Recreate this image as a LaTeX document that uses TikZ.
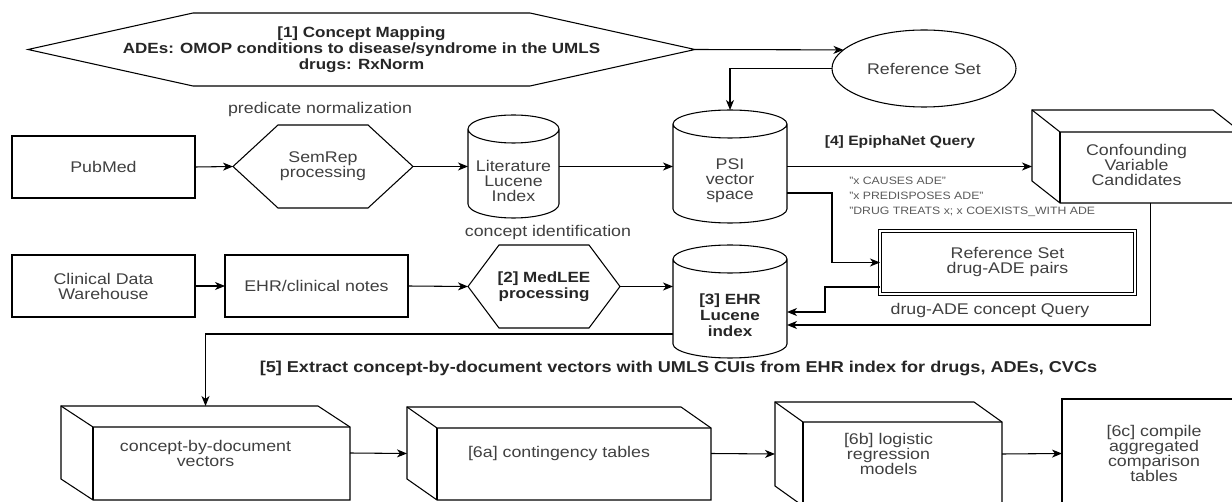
\documentclass[tikz,border=0pt]{standalone}
\usepackage{fontspec}
\setmainfont[FakeStretch=1.15]{Liberation Sans}
\usetikzlibrary{arrows.meta}
\usetikzlibrary{calc}
\usetikzlibrary{shapes.geometric}
\newcommand{\pxl}{0.75pt}
\newcommand{\rfont}{\fontsize{11.6pt}{11.25pt}\selectfont}
\newcommand{\bfont}{\fontsize{11.1pt}{12pt}\selectfont\bfseries}
\newcommand{\qfont}{\fontsize{8pt}{11.25pt}\selectfont}
\tikzset{
	outline/.style={
		draw=black,
		line width=0.8pt,
	},
	shapebox/.style={
		rectangle,
		text=black!75,
		font=\rfont,
		align=center,
		inner sep=0pt,
		outer sep=0pt,
	},
	manifest/.style={
		shapebox,
		outline,
	},
	hexa/.style={
		shapebox,
	},
	db/.style={
		shapebox,
	},
	cubebox/.style={
		shapebox,
	},
	note/.style={
		text=black!75,
		font=\rfont,
		align=center,
		inner sep=0pt,
	},
	bnote/.style={
		text=black!85,
		font=\bfont,
		align=center,
		inner sep=0pt,
	},
	qnote/.style={
		text=black!65,
		font=\qfont,
		align=left,
		inner sep=0pt,
	},
	arrow/.style={
		-{Stealth[length=7.5pt,width=6pt,inset=2.2pt]},
		outline,
	},
}
\begin{document}
\begin{tikzpicture}[x=0.75pt, y=0.75pt]
	\newcommand{\hexdraw}[2]{%
		\draw[outline] (#1.west) -- ($(#1.north west)+(#2,0)$) -- ($(#1.north east)+(-#2,0)$) -- (#1.east)
			-- ($(#1.south east)+(-#2,0)$) -- ($(#1.south west)+(#2,0)$) -- cycle;}
	\newcommand{\dbdraw}[2]{%
		\draw[outline] ($(#1.north west)+(0,-14)$) -- ($(#1.south west)+(0,14)$)
			arc[start angle=180, end angle=360, x radius=#2*\pxl, y radius=14*\pxl]
			-- ($(#1.north east)+(0,-14)$)
			arc[start angle=0, end angle=180, x radius=#2*\pxl, y radius=14*\pxl]
			arc[start angle=180, end angle=360, x radius=#2*\pxl, y radius=14*\pxl];}
	\newcommand{\cubedraw}[3]{%
		\draw[outline] (#1.north west) -- ($(#1.north east)+(-#2,0)$) -- ($(#1.north east)+(0,-#3)$)
			-- (#1.south east) -- ($(#1.south west)+(#2,0)$) -- ($(#1.south west)+(0,#3)$) -- cycle;
		\draw[outline] (#1.north west) -- ($(#1.north west)+(#2,-#3)$) -- ($(#1.north east)+(0,-#3)$);
		\draw[outline] ($(#1.north west)+(#2,-#3)$) -- ($(#1.south west)+(#2,0)$);}

	\useasboundingbox (0,0) rectangle (1232,-502);
	\clip (0,0) rectangle (1232,-502);

	% concept mapping
	\node[hexa, bnote, minimum width=667*\pxl, minimum height=73*\pxl] (mapping) at (361.5,-49.5) {[1] Concept Mapping\\ADEs: OMOP conditions to disease/syndrome in the UMLS\\drugs: RxNorm};
	\node[manifest, ellipse, minimum width=184*\pxl, minimum height=77*\pxl] (refset) at (924,-68.5) {Reference Set};

	% literature side
	\node[note] (prednorm) at (320,-110) {predicate normalization};
	\node[manifest, minimum width=183*\pxl, minimum height=62*\pxl] (pubmed) at (103.5,-167) {PubMed};
	\node[hexa, minimum width=180*\pxl, minimum height=83*\pxl] (semrep) at (323,-166.5) {SemRep\\processing};
	\node[db, minimum width=91*\pxl, minimum height=103*\pxl,
		label={[note, name=litlabel, yshift=-14*\pxl]center:{Literature\\Lucene\\Index}}] (lit) at (513.5,-166.5) {};
	\node[db, minimum width=114*\pxl, minimum height=113*\pxl,
		label={[note, name=psilabel, yshift=-14*\pxl]center:{PSI\\vector\\space}}] (psi) at (730,-166.5) {};
	\node[bnote, font=\fontsize{10.2pt}{12pt}\selectfont\bfseries] (epiq) at (900,-142) {[4] EpiphaNet Query};
	\node[cubebox, minimum width=209*\pxl, minimum height=93*\pxl,
		label={[note, name=cvclabel, yshift=-8.5*\pxl]center:{Confounding\\Variable\\Candidates}}] (cvc) at (1136.5,-156.5) {};
	\node[qnote, anchor=west] (preds) at (849,-197) {"x CAUSES ADE"\\"x PREDISPOSES ADE"\\"DRUG TREATS x; x COEXISTS\_WITH ADE};
	\node[manifest, double, double distance=1.5pt, line width=0.6pt, minimum width=255*\pxl, minimum height=63*\pxl] (refpairs) at (1007.5,-262.5) {Reference Set\\drug-ADE pairs};

	% clinical side
	\node[note] (conceptid) at (548,-233) {concept identification};
	\node[manifest, minimum width=183*\pxl, minimum height=62*\pxl] (cdw) at (103.5,-286) {Clinical Data\\Warehouse};
	\node[manifest, minimum width=183*\pxl, minimum height=62*\pxl] (notes) at (316.5,-286) {EHR/clinical notes};
	\node[hexa, bnote, minimum width=152*\pxl, minimum height=83*\pxl] (medlee) at (544,-286.5) {[2] MedLEE\\processing};
	\node[db, minimum width=114*\pxl, minimum height=113*\pxl,
		label={[bnote, name=ehrlabel, yshift=-14*\pxl]center:{[3] EHR\\Lucene\\index}}] (ehr) at (730,-301.5) {};
	\node[note] (cquery) at (990,-311) {drug-ADE concept Query};
	\node[bnote, font=\fontsize{11.8pt}{12pt}\selectfont\bfseries] (extract) at (678.5,-368) {[5] Extract concept-by-document vectors with UMLS CUIs from EHR index for drugs, ADEs, CVCs};

	% analysis
	\node[cubebox, minimum width=289*\pxl, minimum height=94*\pxl] (cbd) at (205.5,-453) {concept-by-document\\vectors};
	\node[cubebox, minimum width=304*\pxl, minimum height=93*\pxl] (contab) at (559,-453.5) {[6a] contingency tables};
	\node[cubebox, minimum width=227*\pxl, minimum height=104*\pxl] (logreg) at (888.5,-454) {[6b] logistic\\regression\\models};
	\node[manifest, minimum width=184*\pxl, minimum height=109*\pxl] (compile) at (1154,-453.5) {[6c] compile\\aggregated\\comparison\\tables};

	\hexdraw{mapping}{165}
	\hexdraw{semrep}{45}
	\hexdraw{medlee}{31}
	\dbdraw{lit}{45.5}
	\dbdraw{psi}{57}
	\dbdraw{ehr}{57}
	\cubedraw{cvc}{28}{22}
	\cubedraw{cbd}{32}{21}
	\cubedraw{contab}{30}{21}
	\cubedraw{logreg}{28}{20}

	\draw[arrow] (mapping.east) -- (refset.167);
	\draw[arrow] (refset.west) -| (psi.north);

	\draw[arrow] (pubmed.east) -- (semrep.west);
	\draw[arrow] (semrep.east) -- (lit.west);
	\draw[arrow] (lit.east) -- (psi.west);
	\draw[arrow] (psi.east) -- (psi.east -| cvc.west);
	\draw[arrow] ([yshift=-26.5*\pxl]psi.east) -- ++(45,0) |- (refpairs.west);
	\draw[arrow] ([yshift=-24.5*\pxl]refpairs.west) -- ++(-55,0) |- ([yshift=-10.5*\pxl]ehr.east);
	\draw[arrow] ([xshift=14*\pxl]cvc.south) |- ([yshift=-23.5*\pxl]ehr.east);

	\draw[arrow] (cdw.east) -- (notes.west);
	\draw[arrow] (notes.east) -- (medlee.west);
	\draw[arrow] (medlee.east) -- (medlee.east -| ehr.west);
	\draw[arrow] ([yshift=-32.5*\pxl]ehr.west) -| (cbd.north);

	\draw[arrow] (cbd.east) -- (contab.west);
	\draw[arrow] (contab.east) -- (logreg.west);
	\draw[arrow] (logreg.east) -- (compile.west);
\end{tikzpicture}
\end{document}
